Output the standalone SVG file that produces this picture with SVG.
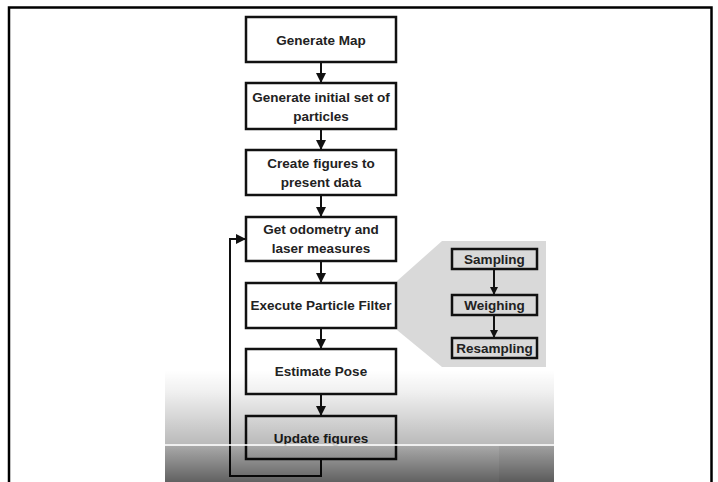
<svg xmlns="http://www.w3.org/2000/svg" width="718" height="482" viewBox="0 0 718 482">
  <style>
    .box { fill: #ffffff; stroke: #111111; stroke-width: 2.5; }
    .sub { fill: #d9d9d9; stroke: #111111; stroke-width: 2.5; }
    .lbl { font-family: "Liberation Sans", Arial, sans-serif; font-weight: bold; font-size: 13.5px; fill: #222222; text-anchor: middle; }
    .edge { fill: none; stroke: #111111; stroke-width: 2; }
  </style>
  <defs>
    <marker id="arrow" viewBox="0 0 10 10" refX="10" refY="5" markerWidth="10" markerHeight="10" markerUnits="userSpaceOnUse" orient="auto">
      <path d="M0,0 L10,5 L0,10 Z" fill="#111111"/>
    </marker>
    <marker id="arrowSmall" viewBox="0 0 10 10" refX="10" refY="5" markerWidth="9" markerHeight="8" markerUnits="userSpaceOnUse" orient="auto">
      <path d="M0,0 L10,5 L0,10 Z" fill="#111111"/>
    </marker>
    <linearGradient id="fadeTop" x1="0" y1="0" x2="0" y2="1">
      <stop offset="0" stop-color="#000" stop-opacity="0"/>
      <stop offset="0.3" stop-color="#000" stop-opacity="0.06"/>
      <stop offset="1" stop-color="#000" stop-opacity="0.27"/>
    </linearGradient>
    <linearGradient id="fadeBottom" x1="0" y1="0" x2="0" y2="1">
      <stop offset="0" stop-color="#000" stop-opacity="0.34"/>
      <stop offset="1" stop-color="#000" stop-opacity="0.62"/>
    </linearGradient>
  </defs>

  <rect x="0" y="0" width="718" height="482" fill="#ffffff"/>

  <!-- page frame -->
  <path d="M9,482 V7.5 H711.5 V482" fill="none" stroke="#000" stroke-width="2.5"/>

  <!-- callout panel behind the particle filter sub-steps -->
  <polygon points="397,281 442,241 546,241 546,367 442,367 397,330" fill="#d9d9d9"/>

  <!-- connectors -->
  <g id="connectors">
    <line class="edge" x1="321" y1="62" x2="321" y2="83" marker-end="url(#arrow)"/>
    <line class="edge" x1="321" y1="129" x2="321" y2="150" marker-end="url(#arrow)"/>
    <line class="edge" x1="321" y1="195" x2="321" y2="217" marker-end="url(#arrow)"/>
    <line class="edge" x1="321" y1="261" x2="321" y2="283" marker-end="url(#arrow)"/>
    <line class="edge" x1="321" y1="328" x2="321" y2="349" marker-end="url(#arrow)"/>
    <line class="edge" x1="321" y1="394" x2="321" y2="416" marker-end="url(#arrow)"/>
    <polyline class="edge" points="321,459 321,476 230,476 230,239 246,239" marker-end="url(#arrow)"/>
    <line class="edge" x1="494" y1="269" x2="494" y2="295" marker-end="url(#arrowSmall)"/>
    <line class="edge" x1="494" y1="315" x2="494" y2="338" marker-end="url(#arrowSmall)"/>
  </g>

  <!-- main flow -->
  <g id="generate-map">
    <rect class="box" x="246" y="17" width="150" height="45"/>
    <text class="lbl" x="321" y="44.5">Generate Map</text>
  </g>
  <g id="initial-particles">
    <rect class="box" x="246" y="83" width="150" height="46"/>
    <text class="lbl" x="321" y="101.5">Generate initial set of</text>
    <text class="lbl" x="321" y="120.5">particles</text>
  </g>
  <g id="create-figures">
    <rect class="box" x="246" y="150" width="150" height="45"/>
    <text class="lbl" x="321" y="167.5">Create figures to</text>
    <text class="lbl" x="321" y="186.5">present data</text>
  </g>
  <g id="odometry">
    <rect class="box" x="246" y="217" width="150" height="44"/>
    <text class="lbl" x="321" y="233.5">Get odometry and</text>
    <text class="lbl" x="321" y="252.5">laser measures</text>
  </g>
  <g id="particle-filter">
    <rect class="box" x="246" y="283" width="150" height="45"/>
    <text class="lbl" x="321" y="310">Execute Particle Filter</text>
  </g>
  <g id="estimate-pose">
    <rect class="box" x="246" y="349" width="150" height="45"/>
    <text class="lbl" x="321" y="376">Estimate Pose</text>
  </g>
  <g id="update-figures">
    <rect class="box" x="246" y="416" width="150" height="43"/>
    <text class="lbl" x="321" y="442.5">Update figures</text>
  </g>

  <!-- particle filter sub-steps -->
  <g id="sampling">
    <rect class="sub" x="452" y="249" width="85" height="20"/>
    <text class="lbl" x="494.5" y="264">Sampling</text>
  </g>
  <g id="weighing">
    <rect class="sub" x="452" y="295" width="85" height="20"/>
    <text class="lbl" x="494.5" y="310">Weighing</text>
  </g>
  <g id="resampling">
    <rect class="sub" x="452" y="338" width="85" height="20"/>
    <text class="lbl" x="494.5" y="353">Resampling</text>
  </g>

  <!-- darkened strip along the bottom -->
  <rect x="165" y="370" width="389" height="74" fill="url(#fadeTop)"/>
  <rect x="165" y="444" width="389" height="2" fill="#ececec" opacity="0.85"/>
  <rect x="165" y="446" width="389" height="36" fill="url(#fadeBottom)"/>
  <rect x="499" y="446" width="55" height="36" fill="#000" opacity="0.05"/>
</svg>
